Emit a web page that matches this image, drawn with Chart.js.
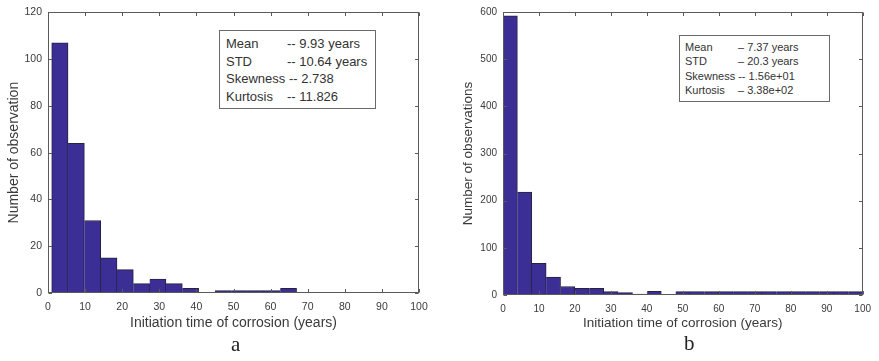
<!DOCTYPE html>
<html>
<head>
<meta charset="utf-8">
<script src="https://cdn.jsdelivr.net/npm/chart.js@4/dist/chart.umd.min.js"></script>
<style>
  html, body { margin: 0; padding: 0; background: #fff; }
  body { width: 879px; height: 361px; position: relative; overflow: hidden; font-family: "Liberation Sans", Arial, sans-serif; color: #333; }
  .panel { position: absolute; top: 0; }
  .stats { position: absolute; border: 1px solid #6a6a6a; background: #fff; box-sizing: border-box; white-space: pre; color: #333; }
  .stats .row { display: block; }
  .stats .k { display: inline-block; }
  .cap { position: absolute; font-family: "Liberation Serif", "Times New Roman", serif; font-size: 21px; color: #222; line-height: 1; }
</style>
</head>
<body>
<canvas id="histA" class="panel" style="left:0px" width="440" height="340"></canvas>
<canvas id="histB" class="panel" style="left:440px" width="439" height="340"></canvas>

<div id="statsA" class="stats" style="left:219px; top:30px; width:157px; height:79px; font-size:13px; line-height:17.5px; padding:4px 0 0 6px;"></div>
<div id="statsB" class="stats" style="left:679px; top:35px; width:151px; height:67px; font-size:11px; line-height:14.4px; padding:4px 0 0 5px;"></div>

<div class="cap" style="left:231px; top:334px;">a</div>
<div class="cap" style="left:684px; top:333px;">b</div>

<script>
// Histogram (a): bin centres (years) and counts
const binCentersA = [3.2, 7.6, 12.0, 16.4, 20.8, 25.2, 29.6, 34.0, 38.4, 42.8, 47.2, 51.6, 56.0, 60.4, 64.8];
const countsA     = [107, 64, 31, 15, 10, 4, 6, 4, 2, 0, 1, 1, 1, 1, 2];
const yTicksA     = { min: 0, max: 120, step: 20 };
const statsA = [
  ["Mean", "-- 9.93 years"],
  ["STD", "-- 10.64 years"],
  ["Skewness", "-- 2.738"],
  ["Kurtosis", "-- 11.826"]
];

// Histogram (b): bin centres (years) and counts
const binCentersB = [2, 6, 10, 14, 18, 22, 26, 30, 34, 38, 42, 46, 50, 54, 58, 62, 66, 70, 74, 78, 82, 86, 90, 94, 98];
const countsB     = [592, 218, 67, 38, 18, 14, 14, 7, 5, 2, 8, 0, 7, 7, 7, 7, 7, 7, 7, 7, 7, 7, 7, 7, 7];
const yTicksB     = { min: 0, max: 600, step: 100 };
const statsB = [
  ["Mean", "\u2013 7.37 years"],
  ["STD", "\u2013 20.3 years"],
  ["Skewness", "-- 1.56e+01"],
  ["Kurtosis", "\u2013 3.38e+02"]
];

const xTicks = { min: 0, max: 100, step: 10 };
const xTitle = "Initiation time of corrosion (years)";

const BAR_FILL = "#3b2f95";
const BAR_EDGE = "#24243a";
const FRAME = "#5a5a5a";
const TEXT = "#3a3a3a";
const FONT = "'Liberation Sans', Arial, sans-serif";

// Box frame with inward tick marks on all four sides
const framePlugin = {
  id: "frame",
  afterDatasetsDraw(chart) {
    const { ctx, chartArea: a, scales: { x, y } } = chart;
    const L = Math.round(a.left) + 0.5, R = Math.round(a.right) - 0.5;
    const T = Math.round(a.top) + 0.5, B = Math.round(a.bottom) - 0.5;
    const len = 3.5;
    ctx.save();
    ctx.strokeStyle = FRAME;
    ctx.lineWidth = 1;
    ctx.strokeRect(L, T, R - L, B - T);
    ctx.beginPath();
    x.ticks.forEach(t => {
      const px = Math.round(x.getPixelForValue(t.value)) + 0.5;
      ctx.moveTo(px, B); ctx.lineTo(px, B - len);
      ctx.moveTo(px, T); ctx.lineTo(px, T + len);
    });
    y.ticks.forEach(t => {
      const py = Math.round(y.getPixelForValue(t.value)) + 0.5;
      ctx.moveTo(L, py); ctx.lineTo(L + len, py);
      ctx.moveTo(R, py); ctx.lineTo(R - len, py);
    });
    ctx.stroke();
    ctx.restore();
  }
};

function makeHist(id, centers, counts, yt, cfg) {
  const data = centers.map((c, i) => ({ x: c, y: counts[i] }));
  return new Chart(document.getElementById(id), {
    type: "bar",
    data: {
      datasets: [{
        data,
        backgroundColor: BAR_FILL,
        borderColor: BAR_EDGE,
        borderWidth: ctx => ({ left: ctx.dataIndex === 0 ? 1 : 0, right: 1, top: 1, bottom: 0 }),
        borderSkipped: false,
        barPercentage: 1,
        categoryPercentage: 1
      }]
    },
    options: {
      responsive: false,
      animation: false,
      events: [],
      layout: { padding: { top: 7, right: cfg.padRight, bottom: 0, left: 0 } },
      plugins: { legend: { display: false }, tooltip: { enabled: false } },
      scales: {
        x: {
          type: "linear",
          min: xTicks.min, max: xTicks.max,
          offset: false,
          grid: { display: false, drawTicks: false },
          border: { display: false },
          ticks: { stepSize: xTicks.step, padding: 8, maxRotation: 0, autoSkip: false, color: TEXT, font: { family: FONT, size: cfg.tickSize } },
          title: { display: true, text: xTitle, color: TEXT, font: { family: FONT, size: cfg.titleSize }, padding: { top: 0, bottom: cfg.xTitlePad } },
          afterFit: s => { s.height = cfg.xHeight; }
        },
        y: {
          min: yt.min, max: yt.max,
          grid: { display: false, drawTicks: false },
          border: { display: false },
          ticks: { stepSize: yt.step, padding: 6, color: TEXT, font: { family: FONT, size: cfg.tickSize } },
          title: { display: true, text: cfg.yTitle, color: TEXT, font: { family: FONT, size: cfg.titleSize }, padding: { top: cfg.yTitlePad, bottom: 0 } },
          afterFit: s => { s.width = cfg.yWidth; }
        }
      }
    },
    plugins: [framePlugin]
  });
}

makeHist("histA", binCentersA, countsA, yTicksA, {
  padRight: 21, xHeight: 47, yWidth: 48, tickSize: 10.5, titleSize: 14,
  xTitlePad: 8.6, yTitlePad: 5.6, yTitle: "Number of observation"
});
makeHist("histB", binCentersB, countsB, yTicksB, {
  padRight: 11, xHeight: 45, yWidth: 63, tickSize: 10, titleSize: 13.5,
  xTitlePad: 8.6, yTitlePad: 20, yTitle: "Number of observations"
});

function fillStats(id, rows, keyWidth) {
  const box = document.getElementById(id);
  rows.forEach(([k, v]) => {
    const row = document.createElement("span");
    row.className = "row";
    const ks = document.createElement("span");
    ks.className = "k";
    ks.style.minWidth = keyWidth + "px";
    ks.textContent = k + " ";
    const vs = document.createElement("span");
    vs.textContent = v;
    row.appendChild(ks);
    row.appendChild(vs);
    box.appendChild(row);
  });
}
fillStats("statsA", statsA, 61);
fillStats("statsB", statsB, 53);
</script>
</body>
</html>
